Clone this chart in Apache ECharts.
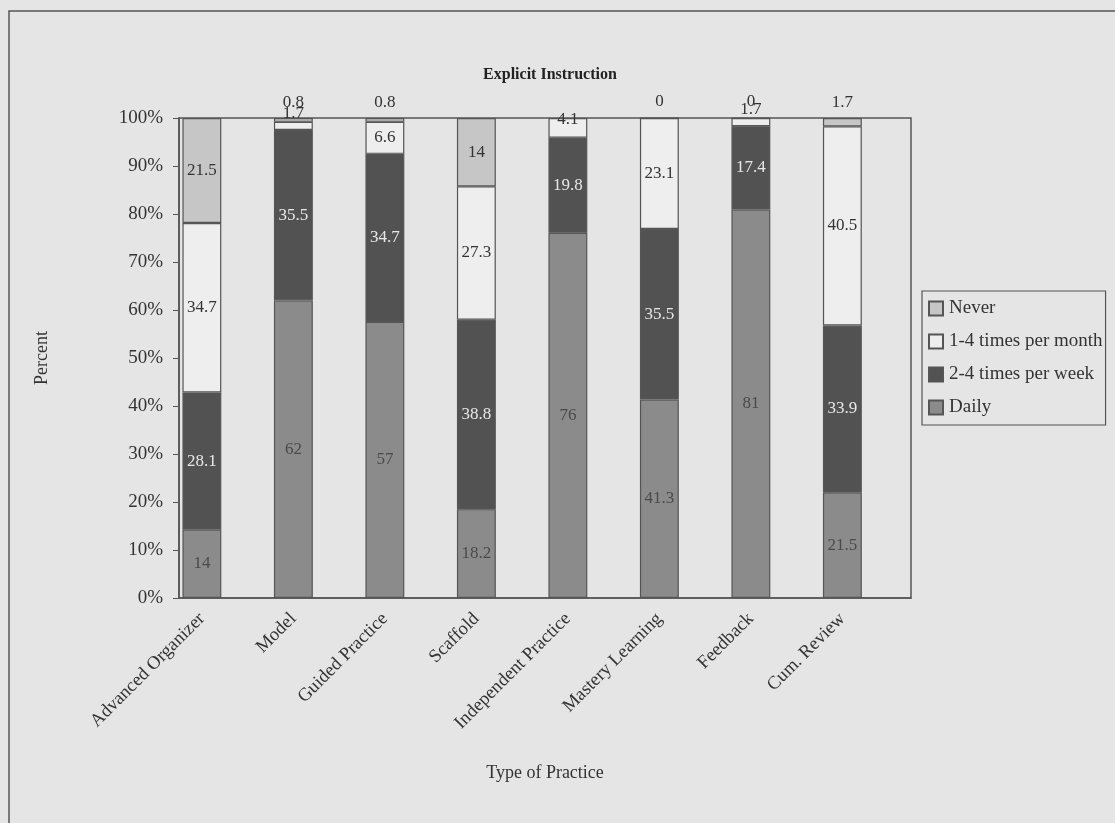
<!DOCTYPE html>
<html>
<head>
<meta charset="utf-8">
<title>Explicit Instruction</title>
<script src="https://cdn.jsdelivr.net/npm/echarts@6/dist/echarts.min.js"></script>
<style>
  html, body { margin: 0; padding: 0; background: #e5e5e5; }
  #chart { width: 1115px; height: 823px; }
</style>
</head>
<body>
<div id="chart"></div>
<script>
// 类别（中间空一格，和原图一样）
var categories = ['Advanced Organizer', '', 'Model', '', 'Guided Practice', '', 'Scaffold', '',
                  'Independent Practice', '', 'Mastery Learning', '', 'Feedback', '', 'Cum. Review', ''];
var seriesNames = ['Daily', '2-4 times per week', '1-4 times per month', 'Never'];
var daily   = [14, null, 62, null, 57, null, 18.2, null, 76, null, 41.3, null, 81, null, 21.5, null];
var weekly  = [28.1, null, 35.5, null, 34.7, null, 38.8, null, 19.8, null, 35.5, null, 17.4, null, 33.9, null];
var monthly = [34.7, null, 1.7, null, 6.6, null, 27.3, null, 4.1, null, 23.1, null, 1.7, null, 40.5, null];
var never   = [21.5, null, 0.8, null, 0.8, null, 14, null, 0, null, 0, null, 0, null, 1.7, null];
var yTicks = [0, 10, 20, 30, 40, 50, 60, 70, 80, 90, 100];

var raw = [daily, weekly, monthly, never];
var fills = ['#8b8b8b', '#525252', '#eeeeee', '#c6c6c6'];
var labelColors = ['#4a4a4a', '#e8e8e8', '#333', '#333'];
var font = '"Liberation Serif", "DejaVu Serif", serif';

var chartDom = document.getElementById('chart');
var myChart = echarts.init(chartDom);

// 100% 堆叠：先算每列总和
var totals = categories.map(function (c, i) {
    var s = 0;
    raw.forEach(function (arr) { if (arr[i] != null) s += arr[i]; });
    return s;
});

var series = raw.map(function (arr, k) {
    return {
        name: seriesNames[k],
        type: 'bar',
        stack: 'all',
        barWidth: '85%',
        itemStyle: { color: fills[k], borderColor: '#555', borderWidth: 1.2 },
        data: arr.map(function (v, i) {
            if (v == null) return null;
            var item = { value: v / totals[i] * 100, raw: v };
            // 太小的值标签放在柱子上方
            if (k === 3 && v < 3) {
                item.label = { position: 'top', distance: 7 };
            } else if (k === 2 && v < 3) {
                item.label = { position: 'top', distance: 0 };
            } else if (k === 2 && v < 5) {
                item.label = { position: 'top', distance: -10 };
            }
            return item;
        }),
        label: {
            show: true,
            position: 'inside',
            fontFamily: font,
            fontSize: 17,
            color: labelColors[k],
            formatter: function (p) { return p.data.raw; }
        }
    };
});

var option = {
    backgroundColor: '#e5e5e5',
    animation: false,
    textStyle: { fontFamily: font },
    title: {
        text: 'Explicit Instruction',
        left: 545,
        textAlign: 'center',
        top: 62,
        textStyle: { fontFamily: font, fontSize: 16, fontWeight: 'bold', color: '#222' }
    },
    legend: {
        orient: 'vertical',
        left: 922,
        top: 291,
        padding: [8, 3, 8, 6],
        borderColor: '#555',
        borderWidth: 1.2,
        itemGap: 14,
        itemWidth: 14,
        itemHeight: 14,
        icon: 'rect',
        data: ['Never', '1-4 times per month', '2-4 times per week', 'Daily'],
        textStyle: { fontFamily: font, fontSize: 19, color: '#333', padding: [0, 0, 0, 1] }
    },
    graphic: [{
        type: 'rect',
        shape: { x: 9, y: 11, width: 1200, height: 900 },
        style: { fill: null, stroke: '#555', lineWidth: 1.5 },
        silent: true
    }],
    grid: {
        left: 179, right: 204, top: 118, bottom: 225,
        show: true, borderColor: '#555', borderWidth: 1.5,
        backgroundColor: 'transparent'
    },
    xAxis: {
        type: 'category',
        data: categories,
        name: 'Type of Practice',
        nameLocation: 'middle',
        nameGap: 166,
        nameTextStyle: { fontFamily: font, fontSize: 18, color: '#333' },
        axisLine: { lineStyle: { color: '#555', width: 1.5 } },
        axisTick: { interval: 0, length: 6, lineStyle: { color: '#555' } },
        axisLabel: { interval: 0, rotate: 45, margin: 18, fontFamily: font, fontSize: 18.5, color: '#333' }
    },
    yAxis: {
        type: 'value',
        min: 0,
        max: 100,
        interval: 10,
        name: 'Percent',
        nameLocation: 'middle',
        nameGap: 128,
        nameTextStyle: { fontFamily: font, fontSize: 18, color: '#333' },
        axisLine: { show: true, lineStyle: { color: '#555', width: 1.5 } },
        axisTick: { show: true, length: 6, lineStyle: { color: '#555' } },
        splitLine: { show: false },
        axisLabel: {
            fontFamily: font, fontSize: 19, color: '#333', margin: 16,
            formatter: function (v) { return yTicks.indexOf(v) >= 0 ? v + '%' : ''; }
        }
    },
    series: series
};
myChart.setOption(option);
</script>
</body>
</html>
